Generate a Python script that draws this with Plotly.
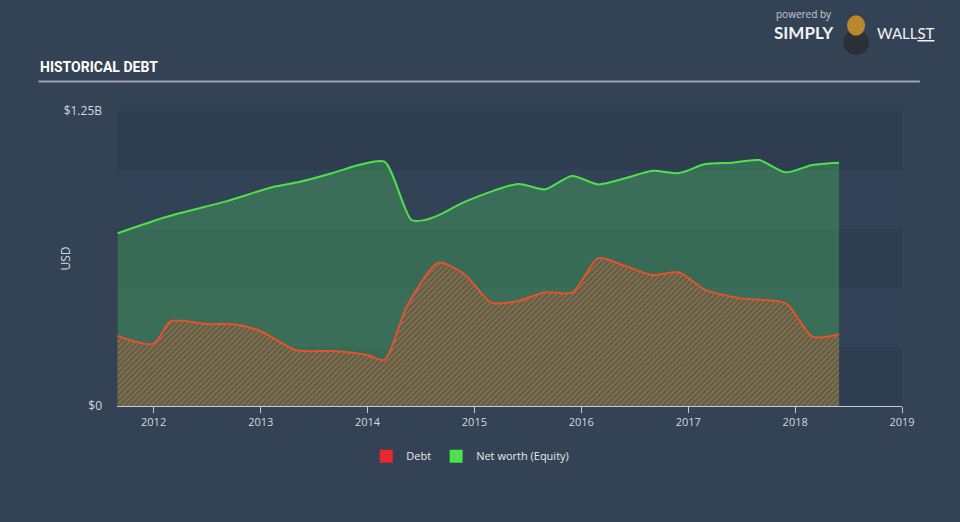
import plotly.graph_objects as go

# ---- data (USD billions) ----
debt_dates = ["2011-08-31", "2011-12-31", "2012-03-01", "2012-06-30", "2012-09-30",
              "2012-12-31", "2013-04-30", "2013-09-01", "2013-12-31", "2014-02-28",
              "2014-05-15", "2014-08-31", "2014-12-01", "2015-02-28", "2015-06-01",
              "2015-08-31", "2015-12-01", "2016-02-28", "2016-05-31", "2016-08-31",
              "2016-11-30", "2017-02-28", "2017-06-30", "2017-11-30", "2018-02-28",
              "2018-05-31"]
debt_vals = [0.297, 0.263, 0.360, 0.347, 0.346,
             0.318, 0.237, 0.233, 0.216, 0.195,
             0.421, 0.607, 0.555, 0.438, 0.445,
             0.482, 0.480, 0.626, 0.593, 0.555,
             0.566, 0.492, 0.456, 0.435, 0.294,
             0.304]

equity_dates = ["2011-08-31", "2012-02-15", "2012-09-01", "2013-02-15", "2013-05-15",
                "2013-09-01", "2013-12-01", "2014-02-28", "2014-05-31", "2014-07-15",
                "2014-09-01", "2014-12-01", "2015-05-31", "2015-08-31", "2015-11-30",
                "2016-02-28", "2016-05-31", "2016-08-31", "2016-11-30", "2017-02-28",
                "2017-05-31", "2017-08-31", "2017-11-30", "2018-02-28", "2018-05-31"]
equity_vals = [0.732, 0.802, 0.866, 0.929, 0.950,
               0.986, 1.021, 1.035, 0.788, 0.788,
               0.809, 0.866, 0.941, 0.918, 0.975,
               0.939, 0.965, 0.997, 0.987, 1.025,
               1.031, 1.042, 0.990, 1.021, 1.031]

year_ticks = ["2012-01-01", "2013-01-01", "2014-01-01", "2015-01-01",
              "2016-01-01", "2017-01-01", "2018-01-01", "2019-01-01"]
year_labels = ["2012", "2013", "2014", "2015", "2016", "2017", "2018", "2019"]
y_ticks = [0, 1.25e9]
y_labels = ["$0", "$1.25B"]
band_edges = [0, 0.25e9, 0.5e9, 0.75e9, 1.0e9, 1.25e9]

B = 1e9
fig = go.Figure()

fig.add_trace(go.Scatter(
    x=equity_dates, y=[v * B for v in equity_vals], mode="lines",
    line=dict(color="#4ee24a", width=2, shape="spline", smoothing=0.7),
    fill="tozeroy", fillcolor="rgba(66,150,90,0.52)", showlegend=False,
    hoverinfo="skip"))

fig.add_trace(go.Scatter(
    x=debt_dates, y=[v * B for v in debt_vals], mode="lines",
    line=dict(color="#e4532c", width=2, shape="spline", smoothing=0.7),
    fill="tozeroy", fillcolor="rgba(0,0,0,0)",
    fillpattern=dict(shape="/", fgcolor="#b0613f", bgcolor="#456850",
                     size=4, solidity=0.4, fillmode="replace"),
    showlegend=False, hoverinfo="skip"))

# legend dummies
fig.add_trace(go.Scatter(x=[None], y=[None], mode="markers", name="Debt",
                         marker=dict(symbol="square", size=13, color="#e8282b")))
fig.add_trace(go.Scatter(x=[None], y=[None], mode="markers", name="Net worth (Equity)",
                         marker=dict(symbol="square", size=13, color="#4fe04f")))

shapes = []
dark = "rgba(40,52,68,0.35)"
for i in range(len(band_edges) - 1):
    if i % 2 == 0:
        shapes.append(dict(type="rect", xref="paper", yref="y", x0=0, x1=1,
                           y0=band_edges[i], y1=band_edges[i + 1],
                           fillcolor=dark, line=dict(width=0), layer="below"))
# title underline
shapes.append(dict(type="line", xref="paper", yref="paper",
                   x0=-0.1, x1=1.0228, y0=1.1, y1=1.1,
                   line=dict(color="#9aa3ad", width=2)))
# simple logo mark (bull)
shapes.append(dict(type="circle", xref="paper", yref="paper",
                   x0=0.925, x1=0.958, y0=1.19, y1=1.275,
                   fillcolor="#2b2f36", line=dict(width=0)))
shapes.append(dict(type="circle", xref="paper", yref="paper",
                   x0=0.930, x1=0.953, y0=1.255, y1=1.325,
                   fillcolor="#b9872c", line=dict(width=0)))

fig.update_layout(
    width=960, height=522,
    margin=dict(l=117, r=58, t=111, b=116),
    paper_bgcolor="#334254", plot_bgcolor="#334357",
    font=dict(family="Open Sans, sans-serif", color="#d3d8de"),
    shapes=shapes,
    showlegend=True,
    legend=dict(orientation="h", x=0.45, xanchor="center", y=-0.17, yanchor="middle",
                font=dict(size=11, color="#e6e9ec"), bgcolor="rgba(0,0,0,0)",
                itemwidth=30),
    xaxis=dict(type="date", range=["2011-08-29", "2019-01-01"],
               tickvals=year_ticks, ticktext=year_labels,
               showgrid=False, zeroline=False,
               showline=True, linecolor="#c5ccd4", linewidth=1,
               ticks="outside", ticklen=6, tickcolor="#c5ccd4",
               tickfont=dict(size=11, color="#d3d8de")),
    yaxis=dict(range=[0, 1.25e9], tickvals=y_ticks, ticktext=y_labels,
               showgrid=False, zeroline=False, showline=False, ticks="",
               ticklabelstandoff=14,
               tickfont=dict(size=12, color="#d3d8de")),
    annotations=[
        dict(text="USD", xref="paper", yref="paper", x=-0.065, y=0.5,
             xanchor="center", yanchor="middle", textangle=-90, showarrow=False,
             font=dict(size=12, color="#d3d8de")),
        dict(text="<b>HISTORICAL DEBT</b>", xref="paper", yref="paper",
             x=-0.101, y=1.115, xanchor="left", yanchor="bottom", showarrow=False,
             font=dict(family="Roboto, sans-serif", size=14, color="#ffffff")),
        dict(text="powered by", xref="paper", yref="paper", x=0.837, y=1.33,
             xanchor="left", yanchor="middle", showarrow=False,
             font=dict(size=10, color="#c6ccd3")),
        dict(text="<b>SIMPLY</b>", xref="paper", yref="paper", x=0.835, y=1.265,
             xanchor="left", yanchor="middle", showarrow=False,
             font=dict(family="Lato, sans-serif", size=17, color="#f0f2f4")),
        dict(text="WALL<u>ST</u>", xref="paper", yref="paper", x=0.965, y=1.265,
             xanchor="left", yanchor="middle", showarrow=False,
             font=dict(family="Lato, sans-serif", size=15, color="#f0f2f4")),
    ],
)

fig.write_html("out.html")
